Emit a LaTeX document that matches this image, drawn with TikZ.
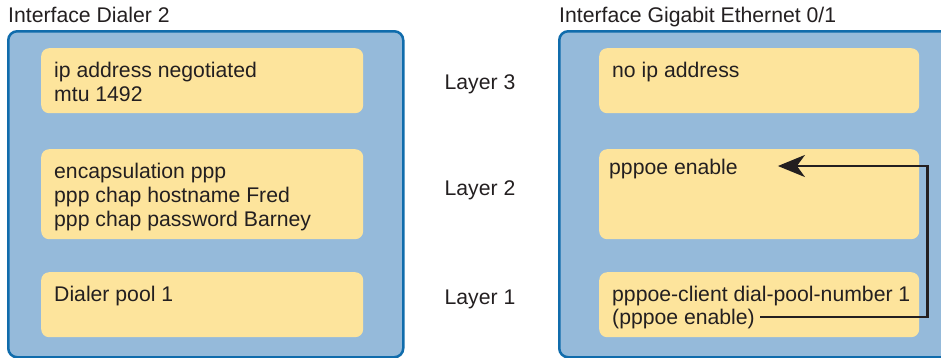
\documentclass[tikz,border=0pt]{standalone}
\usepackage{fontspec}
\setmainfont{Liberation Sans}
\usetikzlibrary{arrows.meta}
\definecolor{ifblue}{RGB}{149,186,218}
\definecolor{ifedge}{RGB}{16,108,172}
\definecolor{cmdyellow}{RGB}{253,228,156}
\definecolor{txtgray}{RGB}{35,31,32}
\begin{document}
\begin{tikzpicture}[x=1pt, y=1pt,
    every node/.style={text=txtgray, font=\fontsize{21.2}{24}\selectfont},
    ifbox/.style={draw=ifedge, line width=2.5pt, fill=ifblue, rounded corners=9pt,
        anchor=north west, minimum width=395pt, minimum height=326pt, inner sep=0pt},
    cmdbox/.style={fill=cmdyellow, rounded corners=8pt, anchor=north west,
        minimum width=322pt, inner sep=0pt},
    cmd/.style={anchor=base west, align=left, inner sep=0pt},
    link/.style={line width=2.5pt, txtgray, -{Stealth[length=27pt, width=22pt, inset=8pt]}}]
    \useasboundingbox (0,0) rectangle (941,-357);

    % Interfaces
    \node[ifbox] (dialer) at (7,-30) {};
    \node[ifbox] (gig) at (558,-30) {};
    \node[anchor=base west, inner sep=0pt] (dialtitle) at (8,-22) {Interface Dialer 2};
    \node[anchor=base west, inner sep=0pt] (gigtitle) at (559,-22) {Interface Gigabit Ethernet 0/1};

    % Bloques de comandos (Dialer)
    \node[cmdbox, minimum height=65pt] (d3) at (41,-48) {};
    \node[cmdbox, minimum height=90pt] (d2) at (41,-149) {};
    \node[cmdbox, minimum height=65pt] (d1) at (41,-272) {};
    \node[cmd] (d3txt) at (54,-77) {ip address negotiated};
    \node[cmd] (d3txtb) at (54,-101) {mtu 1492};
    \node[cmd] (d2txt) at (54,-178) {encapsulation ppp};
    \node[cmd] (d2txtb) at (54,-202) {ppp chap hostname Fred};
    \node[cmd] (d2txtc) at (54,-226) {ppp chap password Barney};
    \node[cmd] (d1txt) at (54,-301) {Dialer pool 1};

    % Bloques de comandos (Gigabit Ethernet)
    \node[cmdbox, minimum width=320pt, minimum height=65pt] (g3) at (599,-48) {};
    \node[cmdbox, minimum width=320pt, minimum height=90pt] (g2) at (599,-149) {};
    \node[cmdbox, minimum width=320pt, minimum height=65pt] (g1) at (599,-272) {};
    \node[cmd] (g3txt) at (612,-77) {no ip address};
    \node[cmd] (g2txt) at (609,-174) {pppoe enable};
    \node[cmd] (g1txt) at (612,-301) {pppoe-client dial-pool-number 1};
    \node[cmd] (g1txtb) at (612,-324) {(pppoe enable)};

    % Capas
    \node[anchor=base] (l3) at (480,-89) {Layer 3};
    \node[anchor=base] (l2) at (480,-195) {Layer 2};
    \node[anchor=base] (l1) at (480,-304) {Layer 1};

    % Flecha
    \coordinate (src) at ([xshift=5pt, yshift=7pt]g1txtb.base east);
    \coordinate (dst) at ([xshift=40pt, yshift=8pt]g2txt.base east);
    \draw[link] (src) -- ([xshift=8pt]g1.east |- src) |- (dst);
\end{tikzpicture}
\end{document}
